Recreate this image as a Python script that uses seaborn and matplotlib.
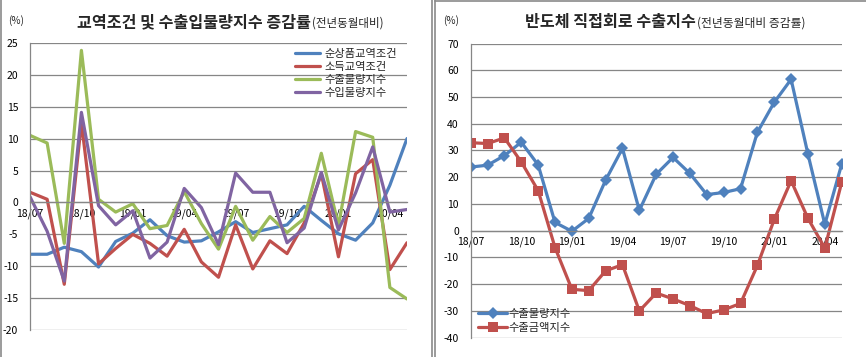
import numpy as np
import pandas as pd
import matplotlib
matplotlib.use("Agg")
import matplotlib.pyplot as plt
import seaborn as sns
from matplotlib.lines import Line2D

sns.set_theme(style="white")
plt.rcParams['font.family'] = ['Noto Sans CJK KR', 'DejaVu Sans']
plt.rcParams['axes.unicode_minus'] = False

# months 18/07 ~ 20/05
months = ['18/07', '18/08', '18/09', '18/10', '18/11', '18/12',
          '19/01', '19/02', '19/03', '19/04', '19/05', '19/06',
          '19/07', '19/08', '19/09', '19/10', '19/11', '19/12',
          '20/01', '20/02', '20/03', '20/04', '20/05']

# left chart: 교역조건 및 수출입물량지수 증감률
terms_of_trade = [-8.1, -8.1, -7.0, -7.7, -10.1, -6.1, -4.8, -2.7, -5.2, -6.2, -6.0, -4.6,
                  -3.0, -4.7, -4.1, -3.5, -0.6, -2.8, -4.9, -5.9, -3.2, 2.7, 10.0]
income_tot = [1.6, 0.5, -12.8, 12.5, -9.6, -7.2, -5.0, -6.4, -8.4, -4.2, -9.3, -11.7,
              -3.5, -10.4, -6.0, -8.0, -3.2, 4.5, -8.5, 4.5, 6.7, -10.5, -6.3]
export_vol = [10.5, 9.3, -6.4, 23.8, 0.5, -1.5, -0.2, -4.1, -3.6, 1.7, -3.3, -7.3,
              -0.6, -5.9, -2.2, -4.7, -2.5, 7.7, -3.6, 11.1, 10.2, -13.3, -15.1]
import_vol = [0.9, -4.5, -12.3, 14.1, -0.5, -3.5, -1.3, -8.7, -6.2, 2.2, -0.8, -6.6,
              4.6, 1.6, 1.6, -6.3, -4.0, 4.7, -4.3, 1.5, 8.7, -1.5, -1.1]
left_names = ['순상품교역조건', '소득교역조건', '수출물량지수', '수입물량지수']
left_colors = ['#4F81BD', '#C0504D', '#9BBB59', '#8064A2']

# right chart: 반도체 직접회로 수출지수
chip_vol = [23.8, 24.5, 28.1, 33.1, 24.6, 3.1, -0.2, 4.6, 18.9, 30.8, 7.6, 21.1,
            27.4, 21.4, 13.5, 14.3, 15.7, 36.8, 48.0, 56.6, 28.6, 2.4, 24.9]
chip_val = [32.9, 32.6, 34.7, 25.7, 15.0, -6.3, -21.9, -22.4, -15.0, -12.7, -30.0, -23.3,
            -25.5, -28.0, -31.0, -29.6, -27.2, -13.0, 4.2, 18.7, 4.6, -6.5, 18.1]
right_names = ['수출물량지수', '수출금액지수']
right_colors = ['#4F81BD', '#C0504D']
right_markers = ['D', 's']

tick_idx = list(range(0, len(months), 3))
grid_c = '#868686'

fig = plt.figure(figsize=(8.66, 3.57), dpi=100)
axL = fig.add_axes([30/866, 1-330.3/357, 377/866, 287.6/357])
axR = fig.add_axes([470.7/866, 1-337.7/357, 371/866, 294.2/357])

x = np.arange(len(months))

# left chart
for vals, name, col in zip([terms_of_trade, income_tot, export_vol, import_vol], left_names, left_colors):
    sns.lineplot(x=x, y=vals, color=col, lw=2.3, label=name, ax=axL)

# right chart
for vals, name, col, mk in zip([chip_vol, chip_val], right_names, right_colors, right_markers):
    sns.lineplot(x=x, y=vals, color=col, lw=2.3, marker=mk, markersize=6.5 if mk == 's' else 6,
                 markeredgewidth=0, label=name, ax=axR)


def style_axis(ax, lo, hi, step):
    ax.set_xlim(0, len(months) - 1)
    ax.set_ylim(lo, hi)
    ax.set_yticks(np.arange(lo, hi + 1, step))
    ax.set_xticks(tick_idx)
    ax.set_xticklabels([months[i] for i in tick_idx])
    ax.grid(axis='y', color=grid_c, lw=0.9)
    ax.grid(axis='x', visible=False)
    ax.set_axisbelow(True)
    for s in ['top', 'right']:
        ax.spines[s].set_visible(False)
    ax.spines['left'].set_color(grid_c)
    ax.spines['left'].set_linewidth(0.9)
    ax.spines['bottom'].set_position(('data', 0))
    ax.spines['bottom'].set_color(grid_c)
    ax.spines['bottom'].set_linewidth(0.9)
    ax.tick_params(axis='y', direction='out', length=3.5, width=0.9, color=grid_c,
                   labelsize=7.5, pad=5, labelcolor='black')
    ax.tick_params(axis='x', direction='in', length=3, width=0.9, color=grid_c,
                   labelsize=7.5, pad=4, labelcolor='black')
    ax.set_facecolor('white')


style_axis(axL, -20, 25, 5)
style_axis(axR, -40, 70, 10)

axL.legend(loc='upper left', bbox_to_anchor=(295/866, 1-48.5/357), bbox_transform=fig.transFigure,
           frameon=False, fontsize=8.1, handlelength=2.2, handletextpad=0.45,
           labelspacing=0.28, borderpad=0, borderaxespad=0)
axR.legend(loc='upper left', bbox_to_anchor=(478/866, 1-308.5/357), bbox_transform=fig.transFigure,
           frameon=False, fontsize=8.1, handlelength=2.6, handletextpad=0.1,
           labelspacing=0.42, borderpad=0, borderaxespad=0)

# titles
fig.text(311/866, 1-22/357, '교역조건 및 수출입물량지수 증감률', ha='right', va='center',
         fontsize=11.6, fontweight='bold')
fig.text(312/866, 1-23/357, '(전년동월대비)', ha='left', va='center', fontsize=8.3)
fig.text(696/866, 1-22/357, '반도체 직접회로 수출지수', ha='right', va='center',
         fontsize=11.6, fontweight='bold')
fig.text(697/866, 1-23/357, '(전년동월대비 증감률)', ha='left', va='center', fontsize=8.5)
fig.text(16/866, 1-21/357, '(%)', ha='center', va='center', fontsize=7.2)
fig.text(451/866, 1-21/357, '(%)', ha='center', va='center', fontsize=7.2)

# panel borders
for xx in [1, 432, 435]:
    fig.add_artist(Line2D([xx/866, xx/866], [0, 1], color='#8a8a8a', lw=1.2))
fig.add_artist(Line2D([435/866, 1], [1-0.8/357, 1-0.8/357], color='#8a8a8a', lw=1.2))

fig.savefig('out.png', dpi=100, facecolor='white')
